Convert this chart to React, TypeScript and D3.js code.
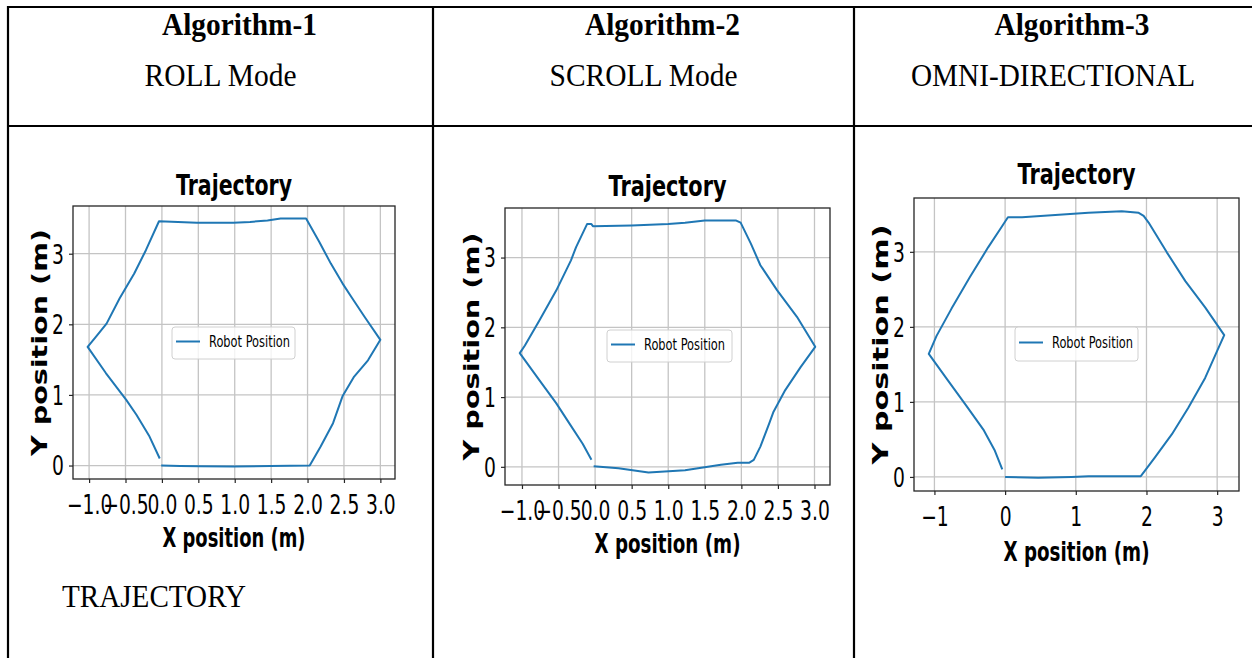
import React, { useEffect, useRef } from 'react';
import * as d3 from 'd3';

// header / table text
const algorithmNames = ['Algorithm-1', 'Algorithm-2', 'Algorithm-3'];
const modeNames = ['ROLL Mode', 'SCROLL Mode', 'OMNI-DIRECTIONAL'];
const footNote = 'TRAJECTORY';
const plotTitle = 'Trajectory';
const xLabel = 'X position (m)';
const yLabel = 'Y position (m)';
const legendLabel = 'Robot Position';

// Algorithm-1, roll mode
const rollX = [-0.01, 0.25, 0.52, 0.98, 1.49, 2.03, 2.18, 2.35, 2.48, 2.64, 2.83, 3.0, 2.78, 2.6, 2.48, 2.32, 2.16, 1.98, 1.63, 1.45, 1.21, 0.98, 0.48, -0.04, -0.22, -0.38, -0.58, -0.76, -0.91, -1.02, -0.77, -0.49, -0.35, -0.17, -0.03];
const rollY = [0.0, -0.005, -0.01, -0.015, -0.005, 0.0, 0.27, 0.6, 0.98, 1.26, 1.49, 1.78, 2.11, 2.39, 2.58, 2.86, 3.17, 3.5, 3.5, 3.47, 3.45, 3.44, 3.44, 3.46, 3.05, 2.72, 2.37, 2.01, 1.82, 1.68, 1.31, 0.93, 0.72, 0.41, 0.1];

// Algorithm-2, scroll mode
const scrollX = [-0.02, 0.32, 0.73, 1.23, 1.72, 1.95, 2.11, 2.17, 2.26, 2.38, 2.44, 2.6, 2.81, 3.01, 2.76, 2.49, 2.26, 2.13, 1.99, 1.93, 1.5, 1.23, 1.0, 0.5, -0.03, -0.05, -0.11, -0.26, -0.33, -0.53, -0.76, -0.96, -1.03, -0.76, -0.53, -0.35, -0.17, -0.05];
const scrollY = [0.01, -0.02, -0.08, -0.05, 0.03, 0.06, 0.06, 0.1, 0.29, 0.62, 0.79, 1.1, 1.43, 1.72, 2.15, 2.53, 2.89, 3.2, 3.5, 3.53, 3.53, 3.5, 3.48, 3.46, 3.45, 3.48, 3.48, 3.15, 2.96, 2.53, 2.1, 1.74, 1.63, 1.24, 0.91, 0.62, 0.33, 0.1];

// Algorithm-3, omni-directional
const omniX = [0.0, 0.47, 0.94, 1.18, 1.65, 1.92, 2.12, 2.36, 2.59, 2.83, 3.0, 3.1, 2.83, 2.55, 2.29, 2.03, 1.96, 1.89, 1.65, 1.18, 0.71, 0.24, 0.04, -0.05, -0.24, -0.5, -0.76, -0.97, -1.08, -0.82, -0.55, -0.3, -0.15, -0.04];
const omniY = [0.0, -0.01, 0.0, 0.01, 0.01, 0.01, 0.26, 0.57, 0.92, 1.32, 1.68, 1.89, 2.26, 2.61, 2.99, 3.39, 3.48, 3.52, 3.54, 3.52, 3.49, 3.46, 3.46, 3.33, 3.06, 2.66, 2.24, 1.88, 1.64, 1.3, 0.95, 0.62, 0.36, 0.1];

const halfTicks = [-1, -0.5, 0, 0.5, 1, 1.5, 2, 2.5, 3];
const unitTicks = [-1, 0, 1, 2, 3];
const yTicks = [0, 1, 2, 3];

const W = 1252;
const H = 658;
const SX = 0.72; // the screenshot is squeezed sideways
const SANS = 'DejaVu Sans, sans-serif';
const SERIF = 'Liberation Serif, Times New Roman, serif';
const BLUE = '#1f77b4';

// layout of the three plots (pixel boxes)
const panels = [
  {
    xs: rollX, ys: rollY, xTicks: halfTicks, fmt: '.1f',
    box: { l: 73, r: 395, t: 206, b: 479 },
    titleY: 195, titleW: 116, xLabY: 547, xLabW: 143, yLabX: 47, yLabLen: 227,
    legend: { x: 172, y: 327, w: 123, h: 32 },
  },
  {
    xs: scrollX, ys: scrollY, xTicks: halfTicks, fmt: '.1f',
    box: { l: 505, r: 830, t: 208, b: 485 },
    titleY: 196, titleW: 118, xLabY: 553, xLabW: 146, yLabX: 479, yLabLen: 228,
    legend: { x: 607, y: 330, w: 125, h: 32 },
  },
  {
    xs: omniX, ys: omniY, xTicks: unitTicks, fmt: 'd',
    box: { l: 914, r: 1239, t: 198, b: 491 },
    titleY: 184, titleW: 118, xLabY: 561, xLabW: 146, yLabX: 888, yLabLen: 240,
    legend: { x: 1015, y: 327, w: 123, h: 34 },
  },
];

// matplotlib style 5% margins
const padded = (vals: number[]) => {
  const [lo, hi] = d3.extent(vals) as [number, number];
  const m = (hi - lo) * 0.05;
  return [lo - m, hi + m];
};

const colLines = [8, 433, 854];

export default function App() {
  const svgRef = useRef<SVGSVGElement>(null);

  useEffect(() => {
    const svg = d3.select(svgRef.current);
    svg.selectAll('*').remove();

    // table frame
    const tbl = svg.append('g').attr('stroke', '#000').attr('stroke-width', 2.2);
    tbl.append('line').attr('x1', 7).attr('x2', W).attr('y1', 7).attr('y2', 7);
    tbl.append('line').attr('x1', 7).attr('x2', W).attr('y1', 126).attr('y2', 126);
    colLines.forEach((cx) => {
      tbl.append('line').attr('x1', cx).attr('x2', cx).attr('y1', 6).attr('y2', H);
    });

    const colCenters = [220.5, 643.5, 1053];
    algorithmNames.forEach((name, i) => {
      svg.append('text')
        .attr('x', colCenters[i] + 19).attr('y', 35)
        .attr('text-anchor', 'middle')
        .attr('font-family', SERIF).attr('font-weight', 'bold').attr('font-size', 32)
        .attr('textLength', 155).attr('lengthAdjust', 'spacingAndGlyphs')
        .text(name);
    });
    const modeW = [152, 188, 284];
    modeNames.forEach((name, i) => {
      svg.append('text')
        .attr('x', colCenters[i]).attr('y', 86)
        .attr('text-anchor', 'middle')
        .attr('font-family', SERIF).attr('font-size', 32)
        .attr('textLength', modeW[i]).attr('lengthAdjust', 'spacingAndGlyphs')
        .text(name);
    });
    svg.append('text')
      .attr('x', 62).attr('y', 607)
      .attr('font-family', SERIF).attr('font-size', 32)
      .attr('textLength', 184).attr('lengthAdjust', 'spacingAndGlyphs')
      .text(footNote);

    panels.forEach((p) => {
      const x = d3.scaleLinear().domain(padded(p.xs)).range([p.box.l, p.box.r]);
      const y = d3.scaleLinear().domain(padded(p.ys)).range([p.box.b, p.box.t]);
      const g = svg.append('g');

      // grid
      g.selectAll('.vgrid').data(p.xTicks).join('line')
        .attr('x1', (d) => x(d)).attr('x2', (d) => x(d))
        .attr('y1', p.box.t).attr('y2', p.box.b)
        .attr('stroke', '#c4c4c4').attr('stroke-width', 1.3);
      g.selectAll('.hgrid').data(yTicks).join('line')
        .attr('x1', p.box.l).attr('x2', p.box.r)
        .attr('y1', (d) => y(d)).attr('y2', (d) => y(d))
        .attr('stroke', '#c4c4c4').attr('stroke-width', 1.3);

      // trajectory
      const pts = p.xs.map((v, i) => [v, p.ys[i]] as [number, number]);
      const line = d3.line<[number, number]>().x((d) => x(d[0])).y((d) => y(d[1]));
      g.append('path').datum(pts)
        .attr('d', line)
        .attr('fill', 'none').attr('stroke', BLUE).attr('stroke-width', 2)
        .attr('stroke-linejoin', 'round');

      // frame
      g.append('rect')
        .attr('x', p.box.l).attr('y', p.box.t)
        .attr('width', p.box.r - p.box.l).attr('height', p.box.b - p.box.t)
        .attr('fill', 'none').attr('stroke', '#262626').attr('stroke-width', 1.3);

      // axes
      const xa = g.append('g')
        .attr('transform', `translate(0,${p.box.b})`)
        .call(d3.axisBottom(x).tickValues(p.xTicks).tickFormat(d3.format(p.fmt) as any).tickSize(4).tickSizeOuter(0));
      xa.select('.domain').remove();
      xa.selectAll('line').attr('stroke', '#262626').attr('stroke-width', 1.2);
      xa.selectAll('text')
        .attr('y', 0).attr('dy', 0)
        .attr('transform', `translate(0,35) scale(${SX},1)`)
        .attr('fill', '#000')
        .style('font-family', SANS).style('font-size', '26px');

      const ya = g.append('g')
        .attr('transform', `translate(${p.box.l},0)`)
        .call(d3.axisLeft(y).tickValues(yTicks).tickFormat(d3.format('d') as any).tickSize(4).tickSizeOuter(0));
      ya.select('.domain').remove();
      ya.selectAll('line').attr('stroke', '#262626').attr('stroke-width', 1.2);
      ya.selectAll('text')
        .attr('x', 0).attr('dy', '0.36em')
        .attr('transform', `translate(-9,0) scale(${SX},1)`)
        .attr('fill', '#000')
        .style('font-family', SANS).style('font-size', '26px');

      const cx = (p.box.l + p.box.r) / 2;
      const cy = (p.box.t + p.box.b) / 2;

      // title + labels
      g.append('text')
        .attr('x', cx).attr('y', p.titleY).attr('text-anchor', 'middle')
        .attr('font-family', SANS).attr('font-weight', 'bold').attr('font-size', 29)
        .attr('textLength', p.titleW).attr('lengthAdjust', 'spacingAndGlyphs')
        .text(plotTitle);
      g.append('text')
        .attr('x', cx).attr('y', p.xLabY).attr('text-anchor', 'middle')
        .attr('font-family', SANS).attr('font-weight', 'bold').attr('font-size', 26)
        .attr('textLength', p.xLabW).attr('lengthAdjust', 'spacingAndGlyphs')
        .text(xLabel);
      g.append('text')
        .attr('transform', `translate(${p.yLabX},${cy}) scale(0.75,1) rotate(-90)`)
        .attr('text-anchor', 'middle')
        .attr('font-family', SANS).attr('font-weight', 'bold').attr('font-size', 28)
        .attr('textLength', p.yLabLen).attr('lengthAdjust', 'spacingAndGlyphs')
        .text(yLabel);

      // legend
      const lg = p.legend;
      g.append('rect')
        .attr('x', lg.x).attr('y', lg.y).attr('width', lg.w).attr('height', lg.h)
        .attr('rx', 3)
        .attr('fill', '#fff').attr('fill-opacity', 0.8)
        .attr('stroke', '#d0d0d0').attr('stroke-width', 1);
      const ly = lg.y + lg.h / 2 - 1.5;
      g.append('line')
        .attr('x1', lg.x + 4).attr('x2', lg.x + 28).attr('y1', ly).attr('y2', ly)
        .attr('stroke', BLUE).attr('stroke-width', 2);
      g.append('text')
        .attr('x', lg.x + 37).attr('y', ly + 5.5)
        .attr('font-family', SANS).attr('font-size', 16)
        .attr('textLength', 81).attr('lengthAdjust', 'spacingAndGlyphs')
        .text(legendLabel);
    });
  }, []);

  return (
    <svg
      ref={svgRef}
      width={W}
      height={H}
      style={{ position: 'absolute', left: 0, top: 0, background: '#fff' }}
    />
  );
}
